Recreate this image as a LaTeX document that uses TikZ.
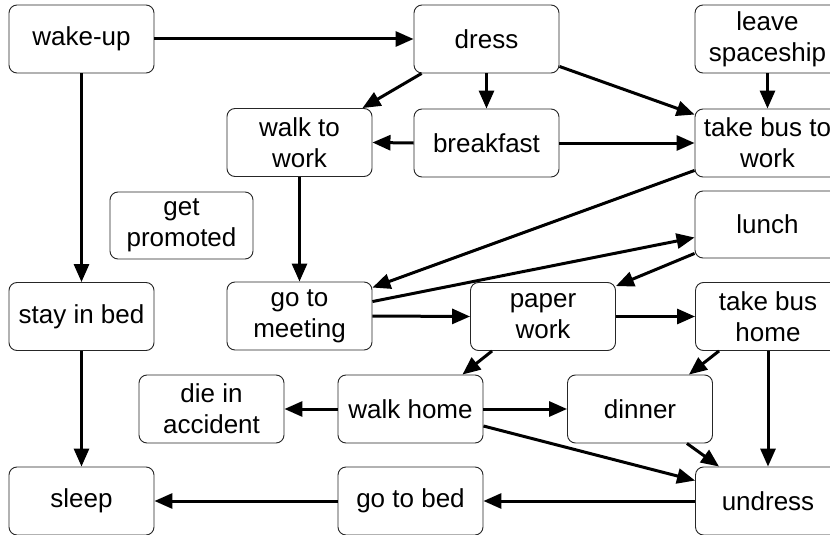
\documentclass[tikz,border=0pt]{standalone}
\usepackage{fontspec}
\setmainfont{Liberation Sans}
\usetikzlibrary{arrows.meta}
\begin{document}
\begin{tikzpicture}[x=1pt,y=-1pt,
  activity/.style={draw=black!85,line width=0.9pt,rounded corners=8pt,
    minimum width=145pt,minimum height=68pt,inner sep=0pt,align=center,
    font=\fontsize{26}{31}\selectfont},
  flow/.style={line width=3pt,-{Triangle[length=18pt,width=15pt]}}]
\useasboundingbox (0,0) rectangle (830,535);
\clip (0,0) rectangle (830,535);
\fill[white] (0,0) rectangle (830,535);

% activities
\node[activity] (wake)    at (81.5,39)   {wake-up};
\node[activity] (dress)   at (486.5,39)  {dress};
\node[activity] (leave)   at (767.5,39)  {leave\\spaceship};
\node[activity] (walkw)   at (299.5,142.5) {walk to\\work};
\node[activity] (bfast)   at (486.5,143) {breakfast};
\node[activity] (busw)    at (767.5,143) {take bus to\\work};
\node[activity,minimum width=143pt,minimum height=67pt] (promo) at (181.5,225.5) {get\\promoted};
\node[activity,minimum height=67pt] (lunch) at (767.5,224.5) {lunch};
\node[activity] (stay)    at (81.5,316.5) {stay in bed};
\node[activity] (meet)    at (299.5,316) {go to\\meeting};
\node[activity] (paper)   at (543,316.5) {paper\\work};
\node[activity] (bush)    at (768,316.5) {take bus\\home};
\node[activity] (die)     at (211.5,409) {die in\\accident};
\node[activity] (walkh)   at (410.5,409) {walk home};
\node[activity] (dinner)  at (640,409)   {dinner};
\node[activity] (sleep)   at (81.5,501)  {sleep};
\node[activity] (bed)     at (410.5,501) {go to bed};
\node[activity] (undress) at (768,501)   {undress};

% transitions
\draw[flow] (wake.east) -- (dress.west);
\draw[flow] (wake.south) -- (stay.north);
\draw[flow] (stay.south) -- (sleep.north);
\draw[flow] ([xshift=8pt]dress.south west) -- ([xshift=-10pt]walkw.north east);
\draw[flow] (dress.south) -- (bfast.north);
\draw[flow] ([yshift=7pt]dress.south east) -- ([yshift=-6pt]busw.north west);
\draw[flow] (bfast.west) -- (walkw.east);
\draw[flow] (bfast.east) -- (busw.west);
\draw[flow] (leave.south) -- (busw.north);
\draw[flow] (walkw.south) -- (meet.north);
\draw[flow] ([yshift=7pt]busw.south west) -- ([yshift=-6pt]meet.north east);
\draw[flow] ([yshift=-20pt]meet.north east) -- ([yshift=-13pt]lunch.west);
\draw[flow] ([yshift=5pt]lunch.south west) -- ([yshift=-4pt]paper.north east);
\draw[flow] (meet.east) -- (paper.west);
\draw[flow] (paper.east) -- (bush.west);
\draw[flow] ([xshift=22pt]paper.south west) -- ([xshift=-21pt]walkh.north east);
\draw[flow] ([xshift=24pt]bush.south west) -- ([xshift=-24pt]dinner.north east);
\draw[flow] (bush.south) -- (undress.north);
\draw[flow] (walkh.west) -- (die.east);
\draw[flow] (walkh.east) -- (dinner.west);
\draw[flow] ([yshift=-17pt]walkh.east) -- ([yshift=-14pt]undress.north west);
\draw[flow] ([xshift=-26pt]dinner.south east) -- ([xshift=24pt]undress.north west);
\draw[flow] (undress.west) -- (bed.east);
\draw[flow] (bed.west) -- (sleep.east);
\end{tikzpicture}
\end{document}
